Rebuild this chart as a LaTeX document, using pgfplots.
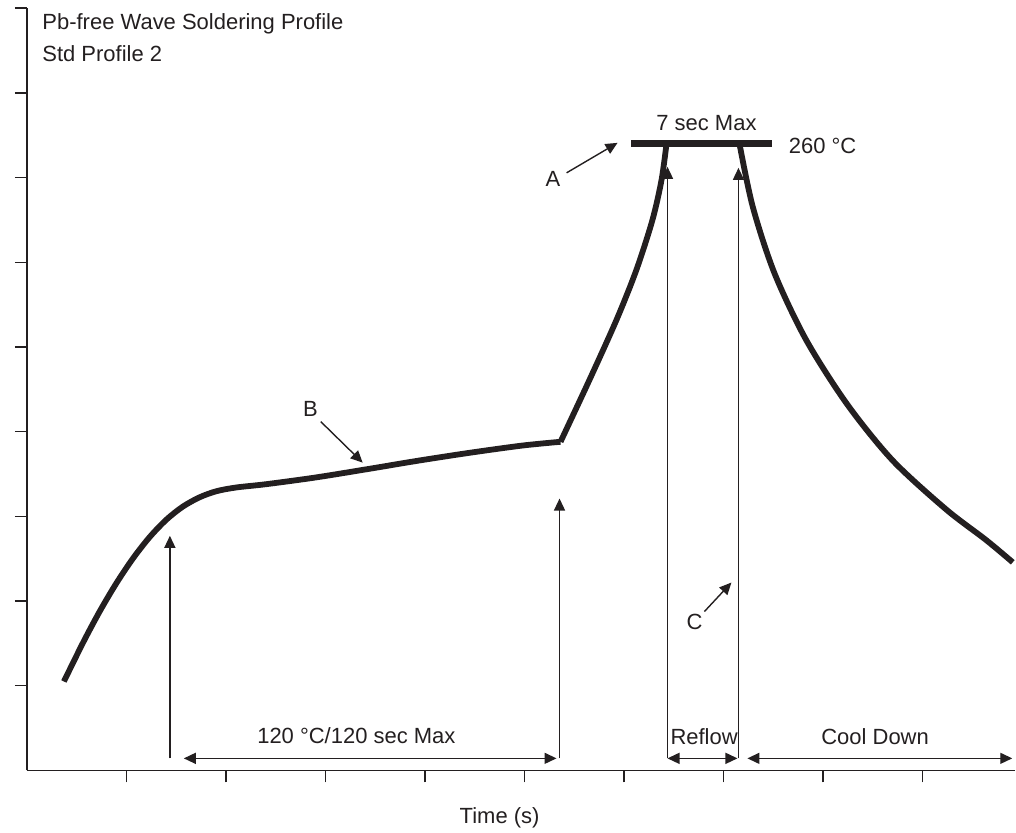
\documentclass[border=0pt]{standalone}
\usepackage{fontspec}
\setmainfont{Liberation Sans}
\usepackage{pgfplots}
\pgfplotsset{compat=1.18}
\usetikzlibrary{arrows.meta}
\definecolor{ink}{RGB}{35,31,32}
\tikzset{
  arr/.style={draw=ink, line width=0.7pt, -{Triangle[length=6pt,width=5.5pt]}},
  darr/.style={draw=ink, line width=0.7pt, {Triangle[length=6pt,width=5.5pt]}-{Triangle[length=6pt,width=5.5pt]}},
  lbl/.style={text=ink, inner sep=0pt},
}
\begin{document}
\begin{tikzpicture}[font=\fontsize{11}{13}\selectfont]
\begin{axis}[
  x=49.8pt, y=42.375pt,
  xmin=0, xmax=9.93, ymin=0, ymax=9,
  axis x line=bottom, axis y line=left,
  axis line style={-, line width=0.75pt, draw=ink},
  xtick={1,2,3,4,5,6,7,8,9}, ytick={1,2,3,4,5,6,7,8,9},
  xticklabels={}, yticklabels={},
  tick align=outside, major tick length=6pt,
  tick style={line width=0.75pt, draw=ink},
  clip=false,
]
% bounding box matching the reference proportions
\path (-0.271,9.097) rectangle (9.930,-0.732);

% preheat + soak
\addplot[ink, line width=2.9pt, smooth] coordinates {
  (0.371,1.050) (0.565,1.512) (0.733,1.882) (0.901,2.215) (1.067,2.506)
  (1.235,2.758) (1.403,2.963) (1.569,3.117) (1.737,3.226) (1.905,3.297)
  (2.105,3.341) (2.407,3.380) (2.902,3.459) (3.424,3.558) (3.936,3.658)
  (4.458,3.752) (4.980,3.836) (5.361,3.880)
};
% ramp to peak
\addplot[ink, line width=2.9pt, smooth] coordinates {
  (5.361,3.880) (5.653,4.614) (5.924,5.321) (6.124,5.912) (6.285,6.501)
  (6.376,6.973) (6.426,7.40)
};
% cool down
\addplot[ink, line width=2.9pt, smooth] coordinates {
  (7.159,7.40) (7.292,6.658) (7.510,5.873) (7.828,5.085) (8.240,4.325)
  (8.698,3.660) (9.234,3.083) (9.635,2.722) (9.905,2.457)
};
% peak bar
\addplot[ink, line width=3.4pt] coordinates {(6.074,7.40) (7.490,7.40)};

% vertical arrows
\draw[arr] (1.436,0.142) -- (1.436,2.77);
\draw[arr] (5.351,0.142) -- (5.351,3.21);
\draw[arr] (6.436,0.142) -- (6.436,7.127);
\draw[arr] (7.149,0.142) -- (7.149,7.115);
% horizontal double arrows
\draw[darr] (1.576,0.142) -- (5.321,0.142);
\draw[darr] (6.436,0.142) -- (7.139,0.142);
\draw[darr] (7.239,0.142) -- (9.900,0.142);
% pointer arrows
\draw[arr] (5.422,7.056) -- (5.934,7.410);
\draw[arr] (2.952,4.118) -- (3.373,3.634);
\draw[arr] (6.807,1.876) -- (7.078,2.218);

% labels
\node[lbl, anchor=base west] at (0.151,8.752) {Pb-free Wave Soldering Profile};
\node[lbl, anchor=base west] at (0.151,8.369) {Std Profile 2};
\node[lbl, anchor=base] at (6.827,7.555) {7 sec Max};
\node[lbl, anchor=base west] at (7.651,7.288) {260 °C};
\node[lbl, anchor=base] at (5.284,6.894) {A};
\node[lbl, anchor=base] at (2.848,4.180) {B};
\node[lbl, anchor=base] at (6.707,1.664) {C};
\node[lbl, anchor=base] at (3.310,0.319) {120 °C/120 sec Max};
\node[lbl, anchor=base] at (6.804,0.307) {Reflow};
\node[lbl, anchor=base] at (8.522,0.307) {Cool Down};
\node[lbl, anchor=base] at (4.749,-0.625) {Time (s)};
\end{axis}
\end{tikzpicture}
\end{document}
